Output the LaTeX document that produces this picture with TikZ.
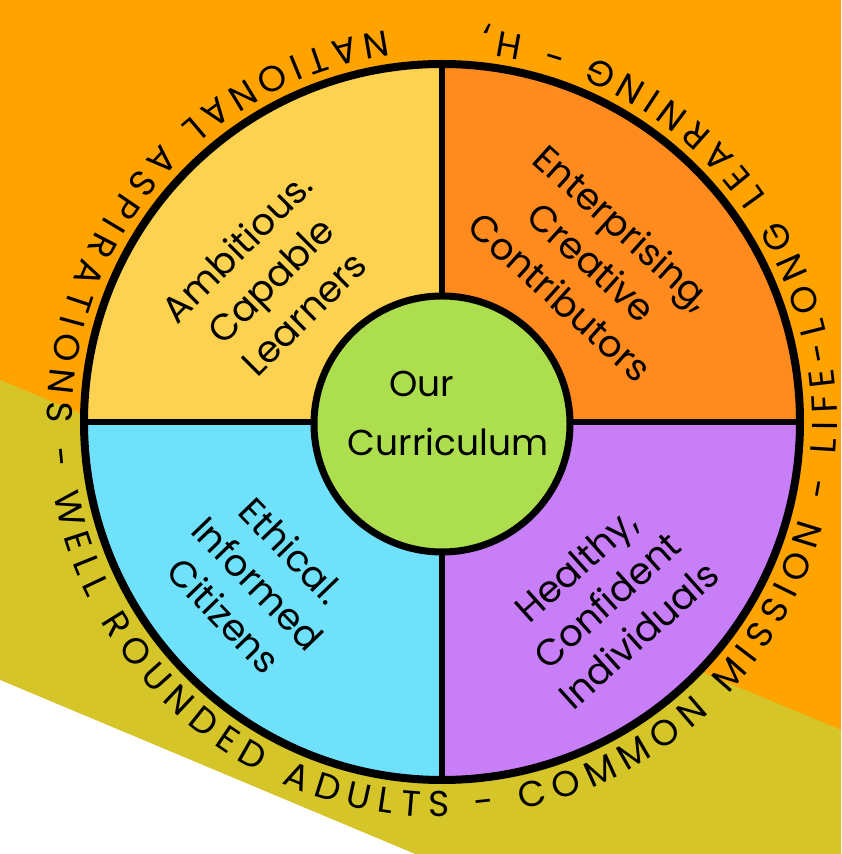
\documentclass[tikz,border=0pt]{standalone}
\usepackage{fontspec}
\setmainfont{Poppins}
\usetikzlibrary{decorations.text}
\definecolor{bgorange}{RGB}{255,163,0}
\definecolor{bgolive}{RGB}{213,197,40}
\definecolor{qyellow}{RGB}{253,210,80}
\definecolor{qorange}{RGB}{255,138,30}
\definecolor{qblue}{RGB}{112,225,250}
\definecolor{qpurple}{RGB}{200,126,246}
\definecolor{cgreen}{RGB}{172,222,78}
\begin{document}
\begin{tikzpicture}[x=1pt,y=1pt,
  quadtext/.style={align=center,inner sep=0pt,font=\fontsize{37}{47}\selectfont},
  hubtext/.style={inner sep=0pt,font=\fontsize{36}{40}\selectfont}]
\useasboundingbox (0,0) rectangle (841,854);
%Background
\fill[bgorange] (0,0) rectangle (841,854);
\fill[bgolive] (0,474) -- (841,124) -- (841,0) -- (415,0) -- (0,174) -- cycle;
\fill[white] (0,174) -- (415,0) -- (0,0) -- cycle;
%Shape: Quadrants
\fill[qyellow] (442,432) -- ++(180:358) arc[start angle=180, end angle=90, radius=358] -- cycle;
\fill[qorange] (442,432) -- ++(90:358) arc[start angle=90, end angle=0, radius=358] -- cycle;
\fill[qblue] (442,432) -- ++(180:358) arc[start angle=180, end angle=270, radius=358] -- cycle;
\fill[qpurple] (442,432) -- ++(270:358) arc[start angle=270, end angle=360, radius=358] -- cycle;
%Straight Lines
\draw[line width=6] (84,432) -- (800,432);
\draw[line width=6] (442,74) -- (442,790);
%Shape: Circle
\draw[line width=8] (442,432) circle[radius=358];
\draw[line width=7, fill=cgreen] (442,430) circle[radius=128];
% Text Node
\node[hubtext] (our) at (422,470) {Our};
\node[hubtext] (curriculum) at (448,412) {Curriculum};
\node[quadtext, rotate=45] (learners) at (270,574) {Ambitious.\\Capable\\Learners};
\node[quadtext, rotate=-42] (contributors) at (592,592) {Enterprising,\\Creative\\Contributors};
\node[quadtext, rotate=-46] (citizens) at (258,271) {Ethical.\\Informed\\Citizens};
\node[quadtext, rotate=42] (individuals) at (607,254) {Healthy,\\Confident\\Individuals};
% Text round the circle
\path[decorate, decoration={text along path, text align={fit to path},
  text={|\fontsize{36}{40}\selectfont|NATIONAL ASPIRATIONS - WELL ROUNDED ADULTS - COMMON MISSION - LIFE-LONG LEARNING - H,}}]
  ([shift={(442,432)}]98:395) arc[start angle=98, end angle=444, radius=395];
\end{tikzpicture}
\end{document}
